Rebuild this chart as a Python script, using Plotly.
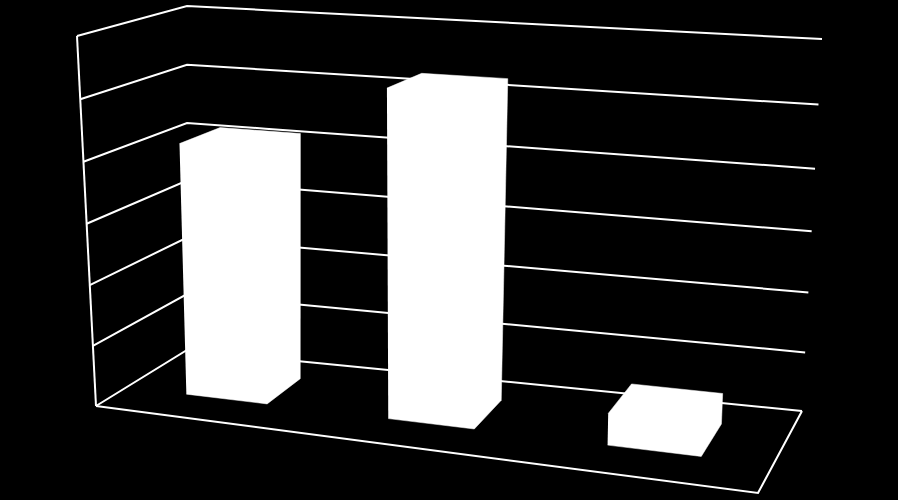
import numpy as np
import plotly.graph_objects as go

categories = [0, 1, 2]
values = [4.16, 5.27, 0.51]
grid_levels = [0, 1, 2, 3, 4, 5, 6]

# where the corners of the box sit in the picture, (x, depth, height)
corners = {
    (0, 0, 0): (96, 406), (1, 0, 0): (758, 493), (1, 1, 0): (802, 411), (0, 1, 0): (187, 350),
    (0, 0, 1): (77, 36), (1, 0, 1): (770, 73), (1, 1, 1): (822, 39), (0, 1, 1): (187, 6),
}
bar_left = [0.092, 0.4045, 0.744]
bar_right = [0.217, 0.5377, 0.889]
bar_depth = (0.34, 0.75)
zmax = 6.0

def proj(x, y, z):
    z = z/zmax
    # heights bunch up a little towards the floor, more on the right
    c = 1.03 + 0.04*x
    z = z/(z + c*(1-z))
    u = v = 0.0
    for (i, j, k), (a, b) in corners.items():
        w = (x if i else 1-x)*(y if j else 1-y)*(z if k else 1-z)
        u += w*a
        v += w*b
    return u, v

def path(pts):
    xy = np.array([proj(*p) for p in pts])
    return xy[:, 0], xy[:, 1]

fig = go.Figure()

def line(pts, w=2):
    # split along the way so the changing height scale stays on the wall
    pts = np.array(pts, float)
    fine = []
    for a, b in zip(pts[:-1], pts[1:]):
        for t in np.linspace(0, 1, 9):
            fine.append(tuple(a + (b-a)*t))
    xs, ys = path(fine)
    fig.add_trace(go.Scatter(x=xs, y=ys, mode='lines', line=dict(color='white', width=w), hoverinfo='skip'))

for g in grid_levels:
    line([(0, 0, g), (0, 1, g), (1, 1, g)])
line([(0, 0, 0), (1, 0, 0), (1, 1, 0)])
line([(0, 0, 0), (0, 0, zmax)])

for c, val in zip(categories, values):
    x0, x1 = bar_left[c], bar_right[c]
    y0, y1 = bar_depth
    # outline of the front, side and top faces together
    xs, ys = path([(x0,y0,0),(x1,y0,0),(x1,y1,0),(x1,y1,val),(x0,y1,val),(x0,y0,val)])
    fig.add_trace(go.Scatter(x=xs, y=ys, mode='lines', fill='toself', fillcolor='white',
                             line=dict(color='white', width=0.5), hoverinfo='skip'))

fig.update_layout(
    width=898, height=500,
    margin=dict(l=0, r=0, t=0, b=0),
    paper_bgcolor='black', plot_bgcolor='black',
    showlegend=False,
    xaxis=dict(range=[0, 898], visible=False),
    yaxis=dict(range=[500, 0], visible=False),
)
fig.write_html("out.html", config=dict(displayModeBar=False),
               post_script="document.body.style.margin='0';document.body.style.background='black';document.body.style.overflow='hidden';")
